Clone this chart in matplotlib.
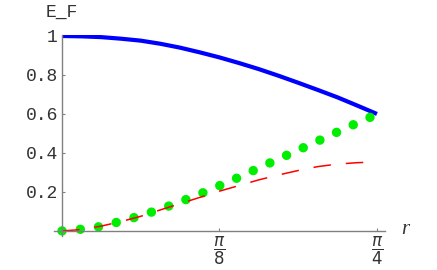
import numpy as np
import matplotlib
matplotlib.use("Agg")
import matplotlib.pyplot as plt

plt.rcParams["lines.scale_dashes"] = False

# r grid: 0 .. pi/4 in 16 steps
r = np.linspace(0, np.pi / 4, 17)

blue_vals = [1.0, 0.998, 0.994, 0.986, 0.976, 0.96, 0.94, 0.916, 0.89,
             0.861, 0.83, 0.796, 0.76, 0.723, 0.685, 0.643, 0.60]
green_vals = [0.0, 0.009, 0.023, 0.05, 0.078, 0.112, 0.149, 0.189, 0.232,
              0.276, 0.323, 0.369, 0.415, 0.461, 0.508, 0.554, 0.598]
red_vals = [0.0, 0.007, 0.025, 0.048, 0.075, 0.108, 0.14, 0.172, 0.204,
            0.233, 0.262, 0.287, 0.31, 0.33, 0.343, 0.35, 0.354]

xticks = [np.pi / 8, np.pi / 4]
xtick_labels = [r"$\dfrac{\pi}{8}$", r"$\dfrac{\pi}{4}$"]
yticks = [0.2, 0.4, 0.6, 0.8, 1.0]
ytick_labels = ["0.2", "0.4", "0.6", "0.8", "1"]

W, H = 437, 270
fig = plt.figure(figsize=(W / 100, H / 100), dpi=100)
ax = fig.add_axes([54 / W, (H - 236) / H, (385 - 54) / W, (236 - 35) / H])

ax.plot(r, blue_vals, color="#0000ff", lw=3.0, solid_capstyle="butt")
ax.plot(r, green_vals, color="#00ee00", lw=6.8,
        linestyle=(0, (0.05, 13.15)), dash_capstyle="round")
ax.plot(r, red_vals, color="#ff0000", lw=1.1,
        linestyle=(0, (12.6, 10.8)), dash_capstyle="butt")

ax.set_xlim(-0.02, 0.8055)
ax.set_ylim(-0.026, 1.005)

for s in ["top", "right"]:
    ax.spines[s].set_visible(False)
for s in ["left", "bottom"]:
    ax.spines[s].set_position(("data", 0))
    ax.spines[s].set_color("#808080")
    ax.spines[s].set_linewidth(1.0)

ax.set_xticks(xticks)
ax.set_xticklabels(xtick_labels, fontsize=12, color="#333333")
ax.set_yticks(yticks)
ax.set_yticklabels(ytick_labels, family="Liberation Mono", fontsize=13,
                   color="#333333")
ax.tick_params(axis="both", direction="in", length=2.5, width=0.8,
               color="#808080")
ax.tick_params(axis="y", pad=3)
ax.tick_params(axis="x", pad=3)

fig.text(62 / W, 1 - 12 / H, "E_F", family="Liberation Mono", fontsize=13,
         color="#333333", ha="center", va="center")
fig.text(405 / W, 1 - 229 / H, "r", family="Liberation Serif",
         style="italic", fontsize=15, color="#333333", ha="center",
         va="center")

fig.savefig("out.png", dpi=100)
